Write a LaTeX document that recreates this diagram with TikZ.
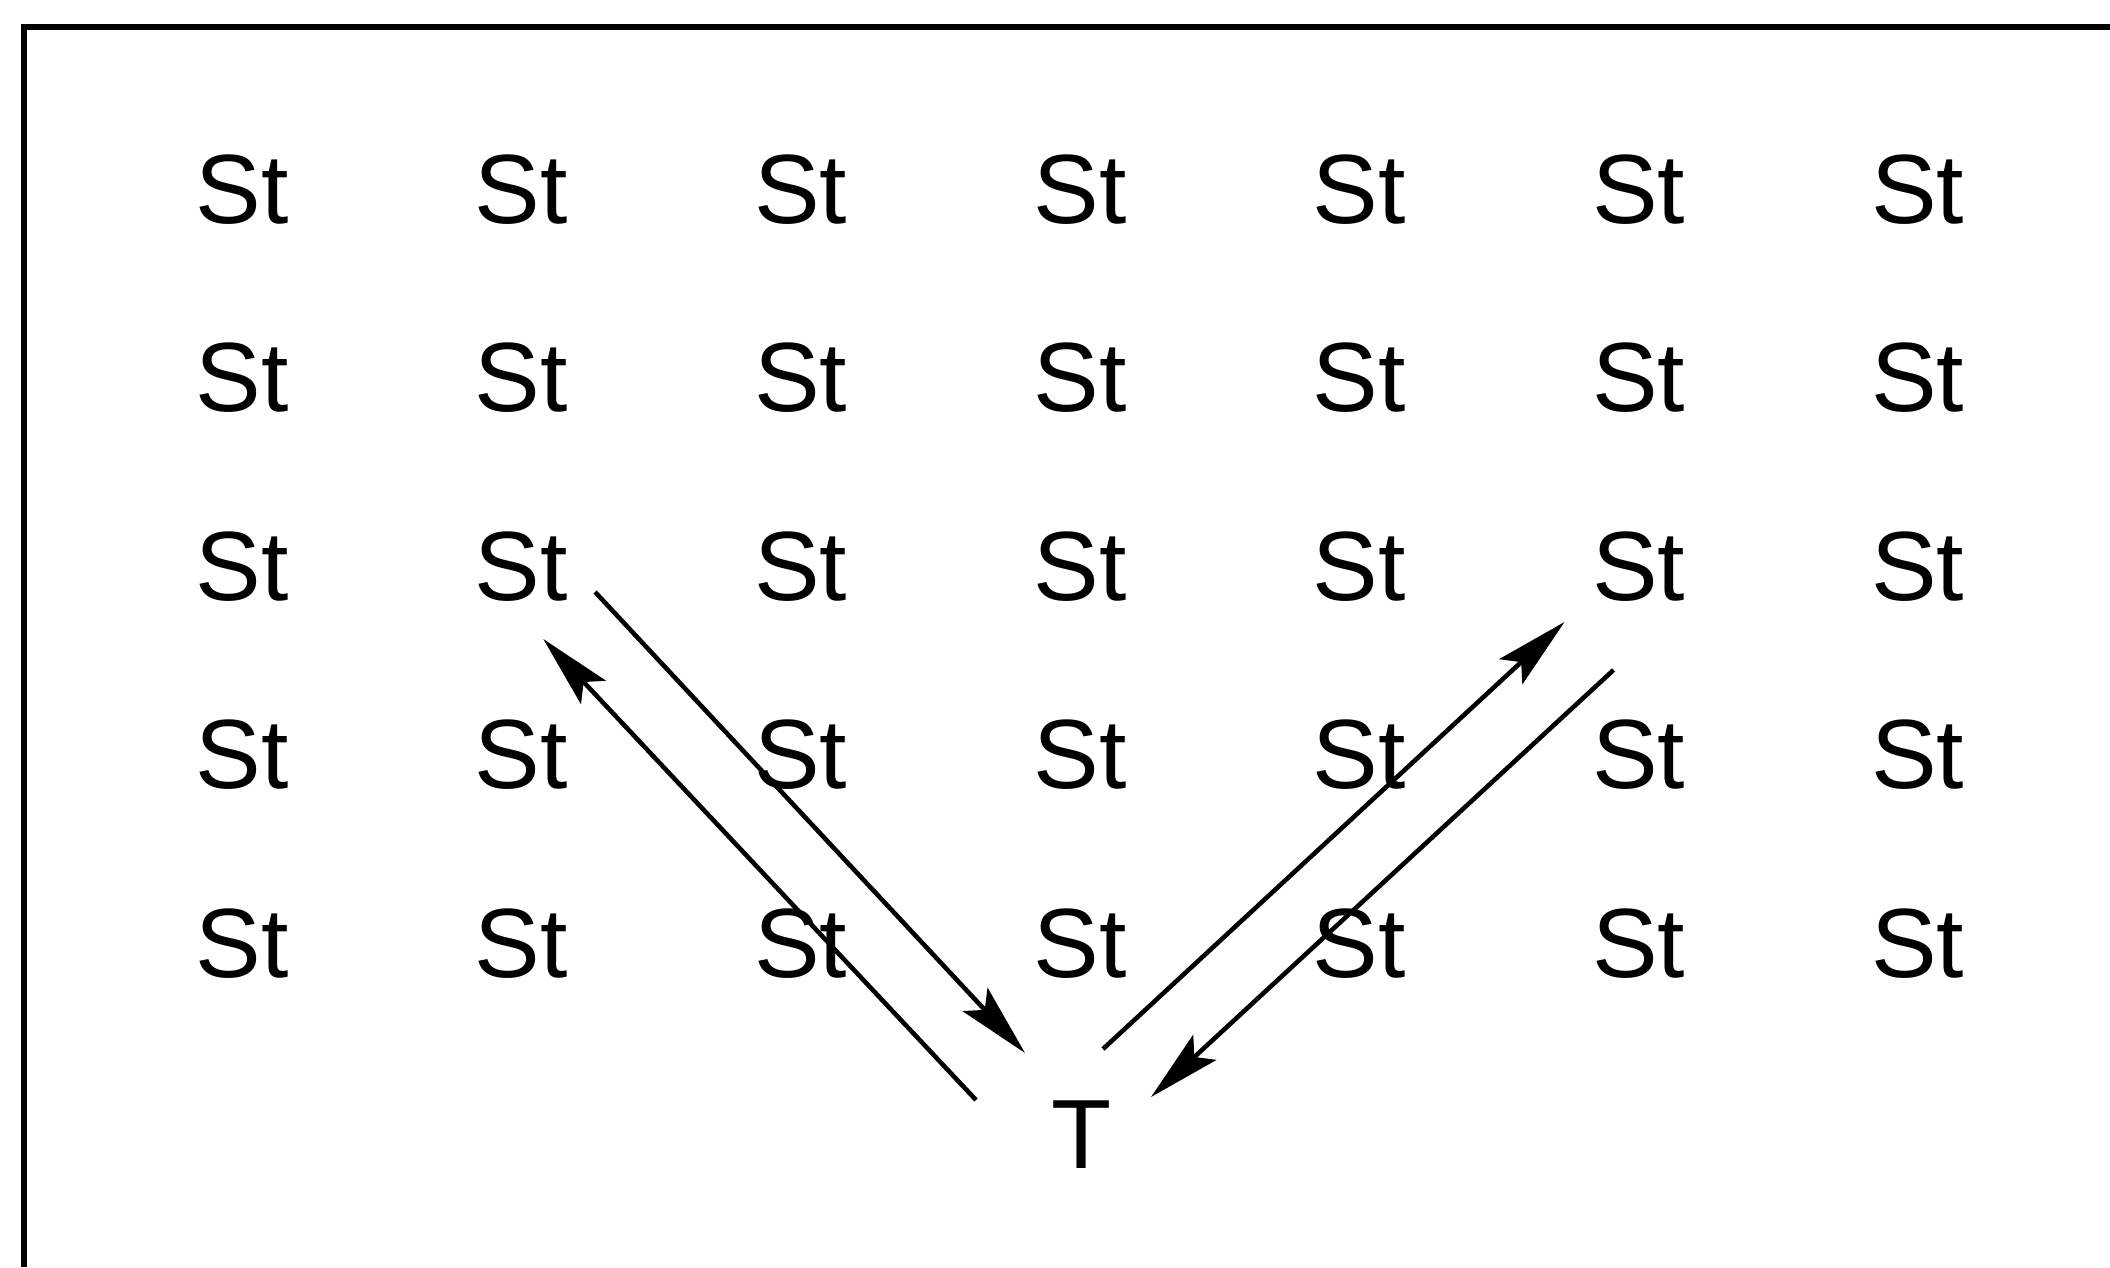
\documentclass[tikz,border=0pt]{standalone}
\usepackage{fontspec}
\setmainfont{Liberation Sans}
\usetikzlibrary{arrows.meta,positioning,calc}

\begin{document}
\begin{tikzpicture}[>={Stealth[length=7.3mm,width=3.4mm,inset=1.4mm]},line width=1.3pt,
  stnode/.style={inner sep=0pt,anchor=base,font=\fontsize{28}{34}\selectfont}]
\useasboundingbox (0,0) rectangle (21.10,-12.67);
\draw[line width=1.8pt] (0.24,-12.67) |- (21.10,-0.27);
\foreach \r in {1,...,5}
  \foreach \c in {1,...,7}
    \node[stnode] (s\r\c) at ({2.42+2.793*(\c-1)},{-2.23-1.885*(\r-1)}) {St};
\node[stnode] (t) at (10.82,-11.68) {T};
\draw[->] ([shift={(0.25,0.08)}]s32.base east) -- ([shift={(-0.57,1.15)}]t.base);
\draw[->] ([shift={(-1.06,0.68)}]t.base) -- ([shift={(0.22,-0.39)}]s32.base);
\draw[->] ([shift={(0.21,1.19)}]t.base) -- ([shift={(-0.74,-0.22)}]s36.base);
\draw[->] ([shift={(-0.25,-0.70)}]s36.base) -- ([shift={(0.69,0.71)}]t.base);
\end{tikzpicture}
\end{document}
